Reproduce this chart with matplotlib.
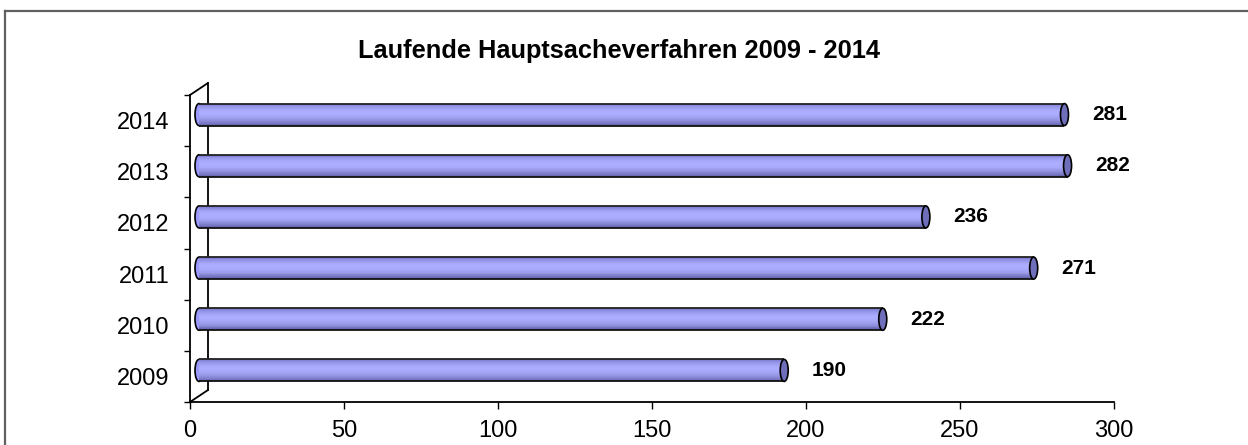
import matplotlib
matplotlib.use("Agg")
import matplotlib.pyplot as plt
import matplotlib.transforms as mtransforms
from matplotlib.patches import Ellipse, ConnectionPatch
from matplotlib.lines import Line2D
import numpy as np

plt.rcParams['font.family'] = ['Liberation Sans', 'DejaVu Sans']

# ---- data ----
years = ["2009", "2010", "2011", "2012", "2013", "2014"]
values = [190, 222, 271, 236, 282, 281]
title = "Laufende Hauptsacheverfahren 2009 - 2014"
xticks = [0, 50, 100, 150, 200, 250, 300]

W, H = 1248, 445
fig = plt.figure(figsize=(W / 100, H / 100), dpi=100)

# front plane of the 3D plot area (pixels)
L, R, T, B = 190, 1114, 95, 402
ax = fig.add_axes([L / W, (H - B) / H, (R - L) / W, (B - T) / H])
ax.set_xlim(0, 300)
ax.set_ylim(-0.5, len(years) - 0.5)
ax.patch.set_visible(False)

for s in ["top", "right"]:
    ax.spines[s].set_visible(False)
for s in ["left", "bottom"]:
    ax.spines[s].set_color("black")
    ax.spines[s].set_linewidth(1.3)

ypos = np.arange(len(years))
ax.set_yticks(ypos)
ax.set_yticklabels(years, fontsize=17)
ax.set_yticks(np.arange(-0.5, len(years)), minor=True)
ax.tick_params(axis="y", which="major", length=0, pad=15)
ax.tick_params(axis="y", which="minor", length=4, width=1, direction="out")
ax.set_xticks(xticks)
ax.set_xticklabels([str(t) for t in xticks], fontsize=17)
ax.tick_params(axis="x", length=5, width=1, pad=8)

# depth transforms (dots == pixels at dpi 100)
trans_mid = mtransforms.offset_copy(ax.transData, fig=fig, x=9, y=6, units="dots")
trans_back = mtransforms.offset_copy(ax.transData, fig=fig, x=18, y=12, units="dots")

# 3D wall lines
ax.plot([0, 0], [-0.5, len(years) - 0.5], transform=trans_back, color="black",
        lw=1.3, clip_on=False)
for yy in (-0.5, len(years) - 0.5):
    con = ConnectionPatch(xyA=(0, yy), coordsA=ax.transData,
                          xyB=(0, yy), coordsB=trans_back,
                          color="black", lw=1.3)
    fig.add_artist(con)

# cylinder bars
h = 0.43
cap_w = 2.6  # data units (approx 8 px)
N = 24
dark_top = np.array([0x6A, 0x6A, 0xC0]) / 255
light = np.array([0xAD, 0xAD, 0xFF]) / 255
dark_bot = np.array([0x55, 0x55, 0x9E]) / 255
body_col = "#9999FF"

for i, v in zip(ypos, values):
    ax.add_patch(Ellipse((0, i), cap_w, h, transform=trans_mid, facecolor=body_col,
                         edgecolor="black", lw=1.2, zorder=2, clip_on=False))

for k in range(N):
    t = (k + 0.5) / N  # 0 = top, 1 = bottom
    peak = 0.42
    if t < peak:
        f = np.sin(np.pi / 2 * t / peak) ** 0.7
        c = dark_top + (light - dark_top) * f
    else:
        f = np.cos(np.pi / 2 * (t - peak) / (1 - peak)) ** 0.8
        c = dark_bot + (light - dark_bot) * f
    yc = ypos + h / 2 - t * h
    ax.barh(yc, values, height=h / N * 1.05, left=0, color=c, linewidth=0,
            transform=trans_mid, zorder=3, clip_on=False)

ax.hlines(ypos + h / 2, 0, values, transform=trans_mid, color="#222222", lw=1.3,
          zorder=4, clip_on=False)
ax.hlines(ypos - h / 2, 0, values, transform=trans_mid, color="#111111", lw=1.3,
          zorder=4, clip_on=False)

for i, v in zip(ypos, values):
    ax.add_patch(Ellipse((v, i), cap_w, h, transform=trans_mid, facecolor="#6E6EBA",
                         edgecolor="black", lw=1.2, zorder=5, clip_on=False))
    ax.text(v + 14.6, i, str(v), transform=trans_mid, ha="center", va="center",
            fontsize=15, fontweight="bold", zorder=6, clip_on=False)

fig.text(0.496, 1 - 51 / H, title, ha="center", va="center", fontsize=18.3,
         fontweight="bold")

# chart border
fig.add_artist(Line2D([4.5 / W, 4.5 / W], [0, 1 - 10.5 / H], transform=fig.transFigure,
                      color="#606060", lw=1.6))
fig.add_artist(Line2D([4.5 / W, 1], [1 - 10.5 / H, 1 - 10.5 / H], transform=fig.transFigure,
                      color="#606060", lw=1.6))

fig.savefig("out.png", dpi=100)
